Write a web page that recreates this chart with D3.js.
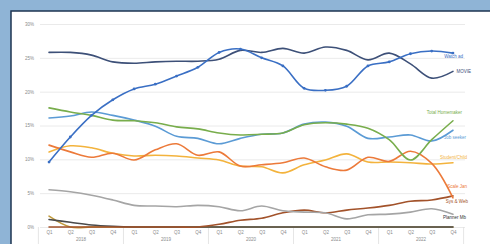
<!DOCTYPE html>
<html>
<head>
<meta charset="utf-8">
<script src="https://cdn.jsdelivr.net/npm/d3@7"></script>
<style>
  html, body { margin: 0; padding: 0; background: #8fb4d6; }
  svg { display: block; font-family: "Liberation Sans", Arial, sans-serif; }
</style>
</head>
<body>
<svg id="chart" width="490" height="244"></svg>
<script>
// quarters 2018 Q1 .. 2022 Q4
const years = ['2018', '2019', '2020', '2021', '2022'];
const quarters = ['Q1', 'Q2', 'Q3', 'Q4'];
const yTicks = [0, 5, 10, 15, 20, 25, 30];

// shares in % per quarter
const watchAd   = [9.6, 13.3, 16.5, 18.8, 20.4, 21.1, 22.3, 23.6, 25.8, 26.3, 25.0, 23.8, 20.5, 20.2, 20.8, 23.8, 24.4, 25.6, 26.0, 25.7];
const movie     = [25.8, 25.8, 25.4, 24.4, 24.2, 24.4, 24.5, 24.5, 24.8, 26.1, 25.8, 26.4, 25.7, 26.6, 26.1, 24.7, 25.7, 24.1, 22.0, 23.0];
const homemaker = [17.6, 17.0, 16.5, 15.8, 15.7, 15.4, 14.8, 14.5, 13.9, 13.6, 13.7, 13.9, 15.1, 15.4, 15.2, 14.6, 12.9, 9.9, 12.9, 15.7];
const jobSeeker = [16.1, 16.4, 17.0, 16.5, 15.8, 14.9, 13.4, 13.1, 12.3, 13.1, 13.7, 13.9, 15.2, 15.5, 14.9, 13.1, 13.3, 13.6, 12.7, 14.3];
const student   = [11.1, 12.0, 11.7, 10.9, 10.5, 10.6, 10.5, 10.2, 9.9, 9.0, 8.9, 8.0, 9.2, 9.9, 10.8, 9.6, 9.6, 9.5, 9.3, 9.5];
const scaleJan  = [12.1, 11.1, 10.3, 10.9, 9.9, 11.4, 12.3, 10.6, 11.1, 9.0, 9.2, 9.5, 10.2, 8.9, 8.4, 10.3, 9.7, 11.2, 9.4, 4.3];
const sysWeb    = [0, 0, 0, 0, 0, 0, 0, 0, 0.4, 1.0, 1.3, 2.1, 2.5, 2.1, 2.5, 2.8, 3.2, 3.8, 4.0, 4.6];
const planner   = [5.5, 5.2, 4.7, 4.0, 3.2, 3.1, 3.0, 3.2, 3.0, 2.4, 3.1, 2.4, 2.2, 2.1, 1.2, 1.8, 1.9, 2.2, 2.7, 1.9];
const other     = [1.1, 0.7, 0.3, 0.1, 0, 0, 0, 0, 0, 0, 0, 0, 0, 0, 0, 0, 0, 0, 0, 0];
const rest      = [1.6, 0, 0, 0, 0, 0, 0, 0, 0, 0, 0, 0, 0, 0, 0, 0, 0, 0, 0, 0];

const series = [
  { name: 'Rest', values: rest, color: '#c09a3c' },
  { name: 'Other', values: other, color: '#4a4a4a' },
  { name: 'Sys & Web', values: sysWeb, color: '#a2522a', label: [468, 203] },
  { name: 'Planner Mb', values: planner, color: '#a5a5a5', label: [466, 219], labelColor: '#333' },
  { name: 'Student/Child', values: student, color: '#f3b33d', label: [467, 159] },
  { name: 'Scale Jan', values: scaleJan, color: '#ec7a3a', label: [467, 188] },
  { name: 'Job seeker', values: jobSeeker, color: '#5b9bd5', label: [466, 139] },
  { name: 'Total Homemaker', values: homemaker, color: '#78ad4c', label: [462, 114] },
  { name: 'MOVIE', values: movie, color: '#3d5078', label: [471, 73] },
  { name: 'Watch ad', values: watchAd, color: '#3a6fc4', label: [463, 58], markers: true }
];

const svg = d3.select('#chart');

// white panel with dark frame
svg.append('rect')
  .attr('x', 11).attr('y', 11).attr('width', 490).attr('height', 250)
  .attr('fill', '#fff').attr('stroke', '#1e3552').attr('stroke-width', 1.5);

const keys = d3.range(years.length * quarters.length);
const x = d3.scaleBand().domain(keys).range([38.4, 463.6]);
const cx = i => x(i) + x.bandwidth() / 2;
const y = d3.scaleLinear().domain([0, 30]).range([227, 24]);

// y grid + labels
const yAxis = svg.append('g')
  .attr('transform', 'translate(40,0)')
  .call(d3.axisLeft(y).tickValues(yTicks).tickFormat(d => d + '%').tickSize(-425).tickPadding(6));
yAxis.select('.domain').remove();
yAxis.selectAll('line').attr('stroke', '#e4e4e4').attr('stroke-width', 0.8);
yAxis.selectAll('text').attr('fill', '#8a8a8a').style('font-size', '4.5px');

// x axis quarter labels
const xq = d3.scalePoint().domain(keys).range([cx(0), cx(keys.length - 1)]);
const xAxis = svg.append('g')
  .attr('transform', 'translate(0,227)')
  .call(d3.axisBottom(xq).tickFormat(i => quarters[i % 4]).tickSize(0).tickPadding(4));
xAxis.select('.domain').attr('stroke', '#d9d9d9');
xAxis.selectAll('text').attr('fill', '#8a8a8a').style('font-size', '4.5px');

// year group separators and labels
const bounds = d3.range(years.length + 1).map(k => k * 4);
svg.append('g').selectAll('line').data(bounds).join('line')
  .attr('x1', k => k < keys.length ? x(k) : x(k - 1) + x.bandwidth())
  .attr('x2', k => k < keys.length ? x(k) : x(k - 1) + x.bandwidth())
  .attr('y1', 227).attr('y2', 244)
  .attr('stroke', '#dedede').attr('stroke-width', 0.8);
svg.append('g').selectAll('text').data(years).join('text')
  .attr('x', (d, j) => (cx(j * 4) + cx(j * 4 + 3)) / 2)
  .attr('y', 241)
  .attr('text-anchor', 'middle')
  .attr('fill', '#8a8a8a')
  .style('font-size', '4.5px')
  .text(d => d);

// lines
const line = d3.line()
  .x((d, i) => cx(i))
  .y(d => y(d))
  .curve(d3.curveCatmullRom.alpha(0.5));

const g = svg.append('g');
series.forEach(s => {
  g.append('path')
    .datum(s.values)
    .attr('d', line)
    .attr('fill', 'none')
    .attr('stroke', s.color)
    .attr('stroke-width', 1.6)
    .attr('stroke-linecap', 'round');
  if (s.markers) {
    g.append('g').selectAll('circle').data(s.values).join('circle')
      .attr('cx', (d, i) => cx(i))
      .attr('cy', d => y(d))
      .attr('r', 1.4)
      .attr('fill', s.color);
  }
  if (s.label) {
    g.append('text')
      .attr('x', s.label[0]).attr('y', s.label[1])
      .attr('text-anchor', 'end')
      .attr('fill', s.labelColor || s.color)
      .style('font-size', '4.5px')
      .text(s.name);
  }
});
</script>
</body>
</html>
